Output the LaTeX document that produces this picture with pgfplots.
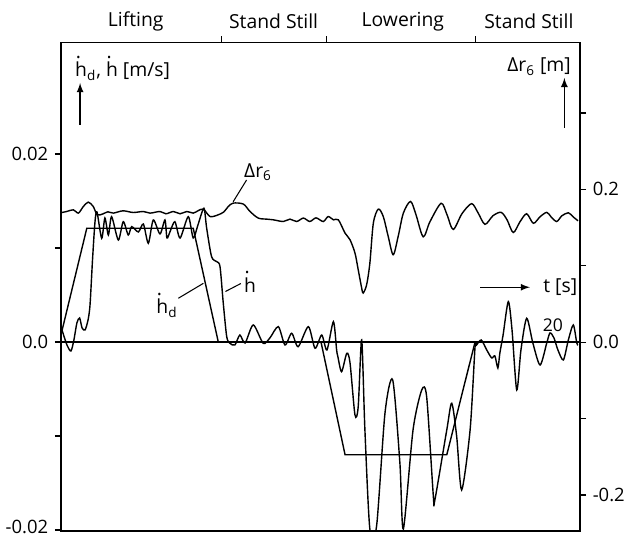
\documentclass[border=0pt]{standalone}
\usepackage{fontspec}
\setmainfont{Open Sans}
\usepackage{pgfplots}
\pgfplotsset{compat=1.18}
\newcommand\hdot{\rlap{\raisebox{0.95em}{\kern0.03em.}}h}

\pgfplotsset{
  mybase/.style={
    at={(1.22cm,0.08cm)}, anchor=south west,
    scale only axis, width=10.38cm, height=9.774cm,
    xmin=-0.04, xmax=20.88,
    tick align=outside, major tick length=0.12cm,
    tick style={black, line width=0.7pt},
    axis line style={black, line width=0.8pt},
    every tick label/.append style={font=\fontsize{10.5}{12}\selectfont},
    /pgf/number format/assume math mode=true,
    scaled y ticks=false, scaled x ticks=false,
    clip mode=individual,
  }
}

\begin{document}
\fontsize{11}{13}\selectfont
\begin{tikzpicture}
\useasboundingbox (0,0) rectangle (12.7cm,10.7cm);
% right axis: Delta r6
\begin{axis}[mybase,
  ymin=-0.2471, ymax=0.3924,
  xtick=\empty,
  ytick={-0.2,-0.1,0,0.1,0.2,0.3},
  yticklabels={-0.2,{},0.0,{},0.2,{}},
  ytick pos=right,
]
\addplot[black, line width=0.8pt, smooth, tension=0.5] coordinates {
(0,0.1697) (0.19,0.1710) (0.46,0.1732) (0.66,0.1689) (0.86,0.1775) (1.06,0.1833)
(1.26,0.1775) (1.42,0.1667) (1.66,0.1680) (1.85,0.1706) (2.07,0.1689) (2.46,0.1719)
(2.87,0.1697) (3.28,0.1710) (3.55,0.1689) (3.95,0.1710) (4.19,0.1680) (4.49,0.1710)
(4.76,0.1680) (5.03,0.1710) (5.29,0.1689) (5.48,0.1719) (5.70,0.1741) (5.97,0.1644)
(6.30,0.1667) (6.53,0.1706) (6.70,0.1775) (6.90,0.1820) (7.31,0.1807) (7.58,0.1710)
(7.91,0.1624) (8.25,0.1610) (8.52,0.1601) (8.92,0.1579) (9.19,0.1610) (9.46,0.1579)
(9.73,0.1624) (9.99,0.1579) (10.24,0.1627) (10.53,0.1579) (10.73,0.1644) (10.94,0.1601)
(11.14,0.1601) (11.41,0.1427) (11.61,0.1340) (11.81,0.1166) (11.94,0.0948) (12.08,0.0708)
(12.14,0.0643) (12.28,0.0752) (12.41,0.1035) (12.55,0.1558) (12.75,0.1741) (12.95,0.1644)
(13.15,0.1383) (13.35,0.1144) (13.55,0.1383) (13.76,0.1689) (14.05,0.1841) (14.27,0.1667)
(14.56,0.1379) (14.83,0.1575) (15.28,0.1817) (15.52,0.1667) (15.77,0.1475) (16.12,0.1680)
(16.51,0.1813) (16.77,0.1693) (17.05,0.1542) (17.37,0.1654) (17.70,0.1699) (17.94,0.1601)
(18.19,0.1435) (18.46,0.1575) (18.73,0.1680) (19.00,0.1556) (19.27,0.1641) (19.54,0.1699)
(19.71,0.1641) (19.94,0.1579) (20.15,0.1654) (20.41,0.1693) (20.60,0.1641) (20.80,0.1588)
};
\end{axis}
% left axis: velocities
\begin{axis}[mybase,
  ymin=-0.02011, ymax=0.03188,
  xtick={6.44,10.67,16.68}, xticklabels={}, xtick pos=right,
  ytick={-0.02,-0.01,0,0.01,0.02},
  yticklabels={\raisebox{4pt}{-0.02},{},0.0,{},0.02},
  ytick pos=left,
]
% zero line
\addplot[black, line width=0.8pt] coordinates {(-0.04,0) (20.88,0)};
% desired velocity
\addplot[black, line width=0.8pt] coordinates {
(0,0.0012) (1.0,0.0121) (5.29,0.0121) (6.30,0) (10.44,0) (11.41,-0.0120)
(15.51,-0.0120) (16.65,0) (20.80,0)
};
% actual velocity
\addplot[black, line width=0.8pt, smooth, tension=0.45] coordinates {
(0,0.00128) (0.20,-0.00032) (0.36,-0.00096) (0.48,0.00021) (0.60,0.00202) (0.71,0.00255)
(0.81,0.00149) (0.93,0.00128) (1.05,0.00234) (1.13,0.00394) (1.23,0.00872) (1.33,0.01277)
(1.41,0.01383) (1.60,0.01103) (1.73,0.01319) (1.87,0.01138) (2.00,0.01333) (2.27,0.01085)
(2.47,0.01280) (2.67,0.01138) (2.81,0.01227) (3.08,0.01170) (3.28,0.01255) (3.48,0.01050)
(3.68,0.01298) (3.95,0.01149) (4.15,0.01298) (4.23,0.01106) (4.35,0.01170) (4.55,0.01280)
(4.76,0.01106) (5.09,0.01333) (5.29,0.01106) (5.48,0.01245) (5.72,0.01422) (5.83,0.01213)
(6.03,0.00907) (6.24,0.00854) (6.37,0.00801) (6.50,0.00415) (6.64,0.00056) (6.77,-0.00014)
(6.97,-0.00032) (7.17,0.00074) (7.38,-0.00011) (7.71,0.00181) (8.11,-0.00014) (8.38,0.00043)
(8.72,0.00163) (8.99,-0.00032) (9.26,0.00093) (9.52,-0.00050) (9.93,0.00163) (10.20,-0.00067)
(10.47,0.00074) (10.68,-0.00085) (10.94,0.00216) (11.07,-0.00085) (11.12,-0.00156)
(11.27,-0.00316) (11.48,-0.00120) (11.61,-0.00223) (11.81,-0.00777) (11.94,-0.00688)
(12.08,0.00021) (12.21,-0.00936) (12.41,-0.01990) (12.68,-0.01960) (13.02,-0.00755)
(13.33,-0.00404) (13.62,-0.01287) (13.76,-0.01990) (14.15,-0.00936) (14.50,-0.00511)
(14.70,-0.00585) (14.97,-0.01646) (15.03,-0.01681) (15.51,-0.00936) (15.71,-0.00652)
(15.91,-0.01007) (16.11,-0.01574) (16.45,-0.00936) (16.65,-0.00050) (16.71,-0.00032)
(16.90,0.00021) (17.12,-0.00085) (17.32,-0.00170) (17.45,-0.00149) (17.57,-0.00277)
(17.65,-0.00117) (17.78,0.00074) (17.99,0.00429) (18.14,0.00128) (18.33,-0.00511)
(18.50,-0.00085) (18.73,0.00252) (18.98,-0.00011) (19.27,-0.00245) (19.54,-0.00011)
(19.67,0.00096) (19.83,0.00043) (19.99,-0.00085) (20.21,-0.00191) (20.41,0.00021)
(20.61,0.00181) (20.75,-0.00011) (20.80,-0.00032)
};
% annotations
\node[anchor=west, inner sep=0pt] at (axis cs:0.52,0.02915) {\hdot\textsubscript{d}, \hdot{} [m/s]};
\draw[-latex, line width=0.8pt] (axis cs:0.73,0.02309) -- (axis cs:0.73,0.02755);
\node[anchor=east, inner sep=0pt] at (axis cs:20.52,0.02929) {Δr\textsubscript{6} [m]};
\draw[-latex, line width=0.8pt] (axis cs:20.25,0.02277) -- (axis cs:20.25,0.02809);
\node at (axis cs:2.97,0.03407) {Lifting};
\node at (axis cs:8.53,0.03407) {Stand Still};
\node at (axis cs:13.74,0.03407) {Lowering};
\node at (axis cs:18.82,0.03407) {Stand Still};
\node at (axis cs:7.90,0.0181) {Δr\textsubscript{6}};
\draw[line width=0.6pt] (axis cs:7.44,0.01723) -- (axis cs:6.90,0.01492);
\node at (axis cs:7.58,0.00638) {\hdot};
\draw[line width=0.6pt] (axis cs:7.21,0.00622) -- (axis cs:6.59,0.00537);
\node at (axis cs:4.23,0.00394) {\hdot\textsubscript{d}};
\draw[line width=0.6pt] (axis cs:4.69,0.00465) -- (axis cs:5.70,0.00624);
\draw[-latex, line width=0.8pt] (axis cs:16.85,0.00582) -- (axis cs:18.86,0.00582);
\node[anchor=west, inner sep=0pt] at (axis cs:19.39,0.00582) {t [s]};
\node[font=\fontsize{10}{12}\selectfont] at (axis cs:19.79,0.00173) {20};
\end{axis}
\end{tikzpicture}
\end{document}
